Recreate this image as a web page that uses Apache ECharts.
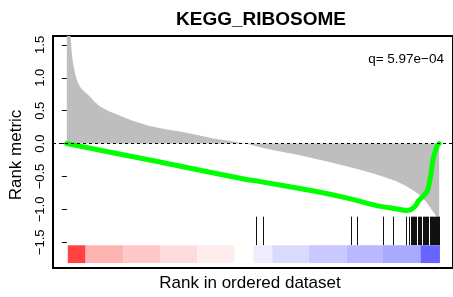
<!DOCTYPE html>
<html>
<head>
<meta charset="utf-8">
<script src="https://cdn.jsdelivr.net/npm/echarts@6/dist/echarts.min.js"></script>
<style>
  html, body { margin: 0; padding: 0; background: #fff; }
  #chart { width: 453px; height: 297px; }
</style>
</head>
<body>
<div id="chart"></div>
<script>
// ranked list: position 0..10000
const rankMetric = [
  [0, 4.0], [20, 3.0], [45, 2.3], [75, 1.9], [100, 1.63], [130, 1.4], [167, 1.22],
  [210, 1.1], [250, 1.0], [300, 0.93], [345, 0.87], [400, 0.83], [470, 0.79],
  [610, 0.72], [740, 0.64], [875, 0.57], [1100, 0.5], [1318, 0.45], [1750, 0.35],
  [2202, 0.27], [2650, 0.22], [3077, 0.18], [3500, 0.13], [3971, 0.075], [4400, 0.04],
  [4800, 0], [5300, -0.07], [5730, -0.12], [6200, -0.17], [6632, -0.225], [7050, -0.28],
  [7508, -0.345], [7950, -0.41], [8383, -0.48], [8834, -0.57], [9100, -0.64],
  [9285, -0.705], [9450, -0.77], [9549, -0.825], [9660, -0.89], [9761, -0.975],
  [9860, -1.05], [9947, -1.125], [9990, -1.4], [10000, -2.5]
];

const runningES = [
  [0, 0], [2500, -0.28], [4855, -0.55], [5120, -0.57], [6632, -0.72], [7508, -0.825],
  [8383, -0.95], [8834, -0.99], [9100, -1.015], [9232, -1.005], [9363, -0.945],
  [9443, -0.87], [9576, -0.795], [9682, -0.72], [9761, -0.525], [9841, -0.225],
  [9947, -0.03], [10000, 0]
];

const hits = [
  5093, 5266, 7627, 7786, 8488, 8753, 9111, 9191, 9231, 9257, 9284, 9337,
  9363, 9390, 9443, 9469, 9496, 9522, 9576, 9602, 9629, 9655, 9682,
  9708, 9761, 9788, 9814, 9841, 9867, 9894, 9920, 9947, 9973, 10000
];

const binEdges = [27, 504, 1512, 2520, 3502, 4510, 5014, 5518, 6500, 7508, 8490, 9498, 10020];
const binColors = [
  "#ff4343", "#ffb4b4", "#ffc8c8", "#ffdcdc", "#ffecec", "#ffffff",
  "#ededff", "#dadaff", "#c9c9ff", "#b9b9ff", "#a9a9ff", "#6666ff"
];

const yTicks = [-1.5, -1, -0.5, 0, 0.5, 1, 1.5];
const yTickLabels = ["\u22121.5", "\u22121.0", "\u22120.5", "0.0", "0.5", "1.0", "1.5"];
const qText = "q= 5.97e\u221204";

const font = "'Liberation Sans', Arial, Helvetica, sans-serif";

const bins = binColors.map((c, i) => [binEdges[i], binEdges[i + 1], i]);

const option = {
  animation: false,
  backgroundColor: "#fff",
  title: {
    text: "KEGG_RIBOSOME",
    left: 256,
    top: 5,
    textAlign: "center",
    textStyle: { fontFamily: font, fontSize: 19, fontWeight: "bold", color: "#000" },
  },
  grid: {
    left: 53,
    right: -5,
    top: 36,
    bottom: 26,
    show: true,
    borderColor: "#000",
    borderWidth: 2,
  },
  xAxis: {
    type: "value",
    min: -371,
    max: 10371,
    axisLine: { show: false },
    axisTick: { show: false },
    axisLabel: { show: false },
    splitLine: { show: false },
    name: "Rank in ordered dataset",
    nameLocation: "middle",
    nameGap: 7,
    nameTextStyle: { fontFamily: font, fontSize: 17, color: "#000", padding: [0, 6, 0, 0] },
  },
  yAxis: {
    type: "value",
    min: -1.89,
    max: 1.635,
    axisLine: { show: false },
    axisTick: { show: true, length: 5, customValues: yTicks, lineStyle: { color: "#000", width: 1 } },
    axisLabel: { show: false },
    splitLine: { show: false },
  },
  series: [
    {
      type: "line",
      data: rankMetric,
      symbol: "none",
      lineStyle: { width: 0 },
      areaStyle: { color: "#bebebe", opacity: 1, origin: 0 },
      z: 1,
      markLine: {
        silent: true,
        symbol: "none",
        label: { show: false },
        lineStyle: { color: "#000", width: 1, type: [3, 3] },
        data: [{ yAxis: 0 }],
      },
    },
    {
      type: "custom",
      data: hits.map((h) => [h]),
      renderItem: (params, api) => {
        const p0 = api.coord([api.value(0), -1.11]);
        const p1 = api.coord([api.value(0), -1.545]);
        return {
          type: "line",
          shape: { x1: Math.round(p0[0]) + 0.5, y1: p0[1], x2: Math.round(p1[0]) + 0.5, y2: p1[1] },
          style: { stroke: "#111", lineWidth: 1 },
        };
      },
      z: 3,
    },
    {
      type: "custom",
      data: bins,
      renderItem: (params, api) => {
        const p0 = api.coord([api.value(0), -1.545]);
        const p1 = api.coord([api.value(1), -1.815]);
        return {
          type: "rect",
          shape: { x: p0[0], y: p0[1], width: p1[0] - p0[0], height: p1[1] - p0[1] },
          style: { fill: binColors[api.value(2)] },
        };
      },
      z: 3,
    },
    {
      type: "line",
      data: runningES,
      symbol: "none",
      smooth: 0.2,
      lineStyle: { color: "#00ff00", width: 5, cap: "round", join: "round" },
      z: 4,
    },
  ],
};

const chart = echarts.init(document.getElementById("chart"));
chart.setOption(option);

// rotated tick labels placed from the axis scale
const labels = yTicks.map((v, i) => ({
  type: "text",
  z: 100,
  x: 40,
  y: chart.convertToPixel({ yAxisIndex: 0 }, v),
  rotation: Math.PI / 2,
  style: {
    text: yTickLabels[i],
    font: "13px " + font,
    fill: "#000",
    align: "center",
    verticalAlign: "middle",
  },
}));

chart.setOption({
  graphic: [
    {
      type: "text",
      right: 9,
      top: 52,
      style: { text: qText, font: "13.5px " + font, fill: "#000" },
    },
    {
      type: "text",
      x: 8,
      y: 155,
      rotation: Math.PI / 2,
      style: {
        text: "Rank metric",
        font: "17px " + font,
        fill: "#000",
        align: "center",
        verticalAlign: "top",
      },
    },
  ].concat(labels),
});
</script>
</body>
</html>
